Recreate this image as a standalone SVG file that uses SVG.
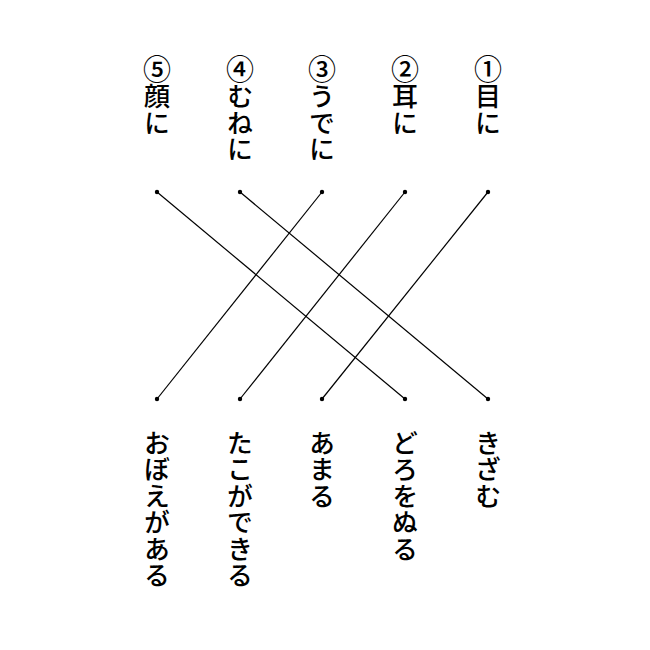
<svg xmlns="http://www.w3.org/2000/svg" width="650" height="650" viewBox="0 0 650 650">
<style>
.t{font-family:"Noto Sans CJK JP","Noto Sans",sans-serif;font-size:26px;font-weight:500;letter-spacing:0.5px;fill:#000;writing-mode:vertical-rl;text-orientation:upright}
.n{font-size:28px}
.c{stroke:#000;stroke-width:1.2;fill:none}
.d{fill:#000}
</style>
<rect width="650" height="650" fill="#fff"/>
<g id="top">
<g id="t5"><text class="t" x="157" y="55"><tspan class="n">⑤</tspan>顔に</text></g>
<g id="t4"><text class="t" x="240" y="55"><tspan class="n">④</tspan>むねに</text></g>
<g id="t3"><text class="t" x="322" y="55"><tspan class="n">③</tspan>うでに</text></g>
<g id="t2"><text class="t" x="405" y="55"><tspan class="n">②</tspan>耳に</text></g>
<g id="t1"><text class="t" x="488" y="55"><tspan class="n">①</tspan>目に</text></g>
</g>
<g id="bottom">
<g id="b5"><text class="t" x="157" y="430">おぼえがある</text></g>
<g id="b4"><text class="t" x="240" y="430">たこができる</text></g>
<g id="b3"><text class="t" x="322" y="430">あまる</text></g>
<g id="b2"><text class="t" x="405" y="430">どろをぬる</text></g>
<g id="b1"><text class="t" x="488" y="430">きざむ</text></g>
</g>
<g id="connectors">
<line class="c" x1="157" y1="192" x2="405" y2="399"/>
<line class="c" x1="240" y1="192" x2="488" y2="399"/>
<line class="c" x1="322" y1="192" x2="157" y2="399"/>
<line class="c" x1="405" y1="192" x2="240" y2="399"/>
<line class="c" x1="488" y1="192" x2="322" y2="399"/>
</g>
<g id="dots">
<circle class="d" cx="157" cy="192" r="2.2"/>
<circle class="d" cx="240" cy="192" r="2.2"/>
<circle class="d" cx="322" cy="192" r="2.2"/>
<circle class="d" cx="405" cy="192" r="2.2"/>
<circle class="d" cx="488" cy="192" r="2.2"/>
<circle class="d" cx="157" cy="399" r="2.2"/>
<circle class="d" cx="240" cy="399" r="2.2"/>
<circle class="d" cx="322" cy="399" r="2.2"/>
<circle class="d" cx="405" cy="399" r="2.2"/>
<circle class="d" cx="488" cy="399" r="2.2"/>
</g>
</svg>
